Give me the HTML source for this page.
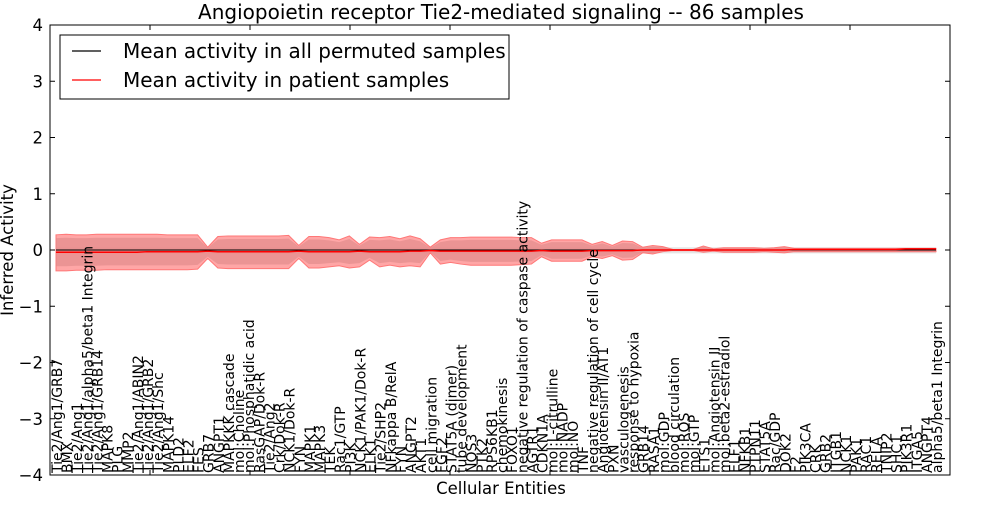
<!DOCTYPE html>
<html><head><meta charset="utf-8"><style>
body{margin:0;background:#fff;font-family:"Liberation Sans","DejaVu Sans",sans-serif;}
svg text{font-family:"DejaVu Sans","Liberation Sans",sans-serif;}
</style></head><body>
<svg id="chart" width="1000" height="500" xmlns="http://www.w3.org/2000/svg">
<rect width="1000" height="500" fill="#fff"/>
<g id="bands"></g><g id="lines"></g><g id="xlabels"></g><g id="axes"></g>
<text x="501" y="19" font-size="20" text-anchor="middle">Angiopoietin receptor Tie2-mediated signaling -- 86 samples</text>
<text x="501" y="494" font-size="16.5" text-anchor="middle">Cellular Entities</text>
<text x="0" y="0" font-size="16.5" text-anchor="middle" transform="translate(13,250) rotate(-90)">Inferred Activity</text>
<g>
<rect x="60" y="35" width="449" height="64" fill="#fff" stroke="#000" stroke-width="1"/>
<line x1="72" y1="51" x2="101" y2="51" stroke="#000" stroke-width="1.2"/>
<text x="123" y="58" font-size="20">Mean activity in all permuted samples</text>
<line x1="72" y1="80" x2="101" y2="80" stroke="#f00" stroke-width="1.2"/>
<text x="123" y="87" font-size="20">Mean activity in patient samples</text>
</g>
</svg>
<script>
const categories=["Tie2/Ang1/GRB7","BMX","Tie2/Ang1","Tie2/Ang1/alpha5/beta1 Integrin","Tie2/Ang1/GRB14","MAPK8","PLG","MMP2","Tie2/Ang1/ABIN2","Tie2/Ang1/GRB2","Tie2/Ang1/Shc","MAPK14","PLD2","ELF2","FES","GRB7","ANGPT1","MAPKKK cascade","mol:Choline","mol:Phosphatidic acid","RasGAP/Dok-R","Tie2/Ang2","Crk/Dok-R","NCK1/Dok-R","FYN","MAPK1","MAPK3","TEK","Rac1/GTP","PI3K","NCK1/PAK1/Dok-R","ELK1","Tie2/SHP2","NFkappa B/RelA","FYN","ANGPT2","AKT1","cell migration","FGF2","STAT5A (dimer)","tube development","NOS3","PTK2","RPS6KB1","chemokinesis","FOXO1","negative regulation of caspase activity","AGTR1","CDKN1A","mol:L-citrulline","mol:NADP","mol:NO","TNF","negative regulation of cell cycle","Angiotensin II/AT1","PXN","vasculogenesis","response to hypoxia","GRB14","RASA1","mol:GDP","blood circulation","mol:ROS","mol:GTP","ETS1","mol:Angiotensin II","mol:beta2-estradiol","ELF1","NFKB1","PTPN11","STAT5A","Rac/GDP","DOK2","F2","PIK3CA","CRK","GRB2","ITGB1","NCK1","PAK1","RAC1","RELA","TNIP2","SHC1","PIK3R1","ITGA5","ANGPT4","alpha5/beta1 Integrin"];
const outerUp=[0.27,0.28,0.27,0.27,0.28,0.28,0.28,0.28,0.28,0.28,0.28,0.27,0.27,0.27,0.27,0.05,0.24,0.25,0.25,0.25,0.25,0.25,0.25,0.26,0.08,0.24,0.24,0.22,0.18,0.25,0.10,0.23,0.22,0.24,0.20,0.25,0.20,0.05,0.18,0.22,0.22,0.23,0.23,0.23,0.23,0.23,0.22,0.22,0.12,0.18,0.18,0.18,0.18,0.10,0.15,0.08,0.16,0.15,0.05,0.08,0.06,0.01,0.01,0.01,0.07,0.02,0.04,0.04,0.04,0.04,0.03,0.04,0.06,0.03,0.03,0.03,0.03,0.03,0.03,0.03,0.03,0.03,0.03,0.03,0.03,0.03,0.03,0.03];
const outerLo=[-0.37,-0.37,-0.36,-0.36,-0.36,-0.35,-0.35,-0.35,-0.35,-0.35,-0.35,-0.35,-0.35,-0.35,-0.34,-0.15,-0.32,-0.33,-0.33,-0.33,-0.33,-0.33,-0.33,-0.33,-0.15,-0.32,-0.32,-0.30,-0.28,-0.32,-0.30,-0.18,-0.30,-0.27,-0.30,-0.28,-0.30,-0.05,-0.25,-0.22,-0.25,-0.27,-0.27,-0.27,-0.27,-0.27,-0.26,-0.25,-0.12,-0.20,-0.20,-0.20,-0.20,-0.12,-0.15,-0.10,-0.18,-0.17,-0.05,-0.07,-0.03,-0.01,-0.01,-0.01,-0.04,-0.02,-0.04,-0.04,-0.04,-0.04,-0.03,-0.04,-0.05,-0.03,-0.03,-0.03,-0.03,-0.03,-0.03,-0.03,-0.03,-0.03,-0.03,-0.03,-0.03,-0.03,-0.03,-0.03];
const redMean=[-0.04,-0.04,-0.04,-0.04,-0.04,-0.04,-0.04,-0.04,-0.04,-0.03,-0.03,-0.03,-0.03,-0.03,-0.03,-0.02,-0.03,-0.03,-0.03,-0.03,-0.03,-0.03,-0.03,-0.03,-0.02,-0.03,-0.03,-0.03,-0.03,-0.03,-0.02,-0.03,-0.03,-0.03,-0.03,-0.02,-0.02,-0.01,-0.02,-0.02,-0.02,-0.02,-0.02,-0.02,-0.02,-0.02,-0.02,-0.02,-0.01,-0.02,-0.02,-0.02,-0.02,-0.01,-0.01,-0.01,-0.01,-0.01,0,0,0,0,0,0,0,0,0,0,0,0,0,0,0,0.01,0.01,0.01,0.01,0.01,0.01,0.01,0.01,0.01,0.01,0.01,0.02,0.02,0.02,0.02];
const blackMean=categories.map(()=>0);
const grayUp=0.05, grayLo=-0.06;
const yTicks=[4,3,2,1,0,-1,-2,-3,-4];
const xTicks=[0,10,20,30,40,50,60,70,80,90];
const NS="http://www.w3.org/2000/svg";
const L=50,R=950,T=25,B=475;
const yS=v=>250-v*56.25;
const xS=i=>56+i*(880/(categories.length-1));
const xT=v=>L+v*10;
function mk(tag,attrs,parent){const e=document.createElementNS(NS,tag);for(const k in attrs)e.setAttribute(k,attrs[k]);parent.appendChild(e);return e;}
const bands=document.getElementById('bands'),lines=document.getElementById('lines'),xl=document.getElementById('xlabels'),ax=document.getElementById('axes');
function area(up,lo){let p='';up.forEach((v,i)=>p+=(i?'L':'M')+xS(i)+','+yS(v));for(let i=lo.length-1;i>=0;i--)p+='L'+xS(i)+','+yS(lo[i]);return p+'Z';}
function line(vals){return vals.map((v,i)=>(i?'L':'M')+xS(i)+','+yS(v)).join('');}
const g=mk('path',{d:area(categories.map(()=>grayUp),categories.map(()=>grayLo)),fill:'#ccc','fill-opacity':0.5},bands);


const o=mk('path',{d:area(outerUp,outerLo),fill:'#f88','fill-opacity':0.75,stroke:'#f77','stroke-width':1},bands);


const inn=mk('path',{d:area(outerUp.map(v=>v*0.78),outerLo.map(v=>v*0.78)),fill:'#d88','fill-opacity':0.6},bands);


const dl=mk('path',{d:line(blackMean),fill:'none',stroke:'#000','stroke-width':1,'stroke-dasharray':'1,3'},lines);


const bl=mk('path',{d:line(blackMean),fill:'none',stroke:'#000','stroke-width':1},lines);


const rl=mk('path',{d:line(redMean),fill:'none',stroke:'#f00','stroke-width':1.5},lines);


categories.forEach((c,i)=>{const t=mk('text',{'font-size':14,transform:`translate(${xS(i)+6},473) rotate(-90)`},xl);t.textContent=c;

});
const fr=mk('rect',{x:L,y:T,width:R-L,height:B-T,fill:'none',stroke:'#000','stroke-width':1},ax);


yTicks.forEach(v=>{const y=yS(v);mk('line',{x1:L,y1:y,x2:L+5,y2:y,stroke:'#000'},ax);mk('line',{x1:R-5,y1:y,x2:R,y2:y,stroke:'#000'},ax);
const t=mk('text',{x:L-7,y:y+6,'font-size':16.5,'text-anchor':'end'},ax);t.textContent=v<0?'\u2212'+(-v):String(v);

});
xTicks.forEach(v=>{const x=xT(v);mk('line',{x1:x,y1:T,x2:x,y2:T+5,stroke:'#000'},ax);mk('line',{x1:x,y1:B-5,x2:x,y2:B,stroke:'#000'},ax);});
</script>
</body></html>
